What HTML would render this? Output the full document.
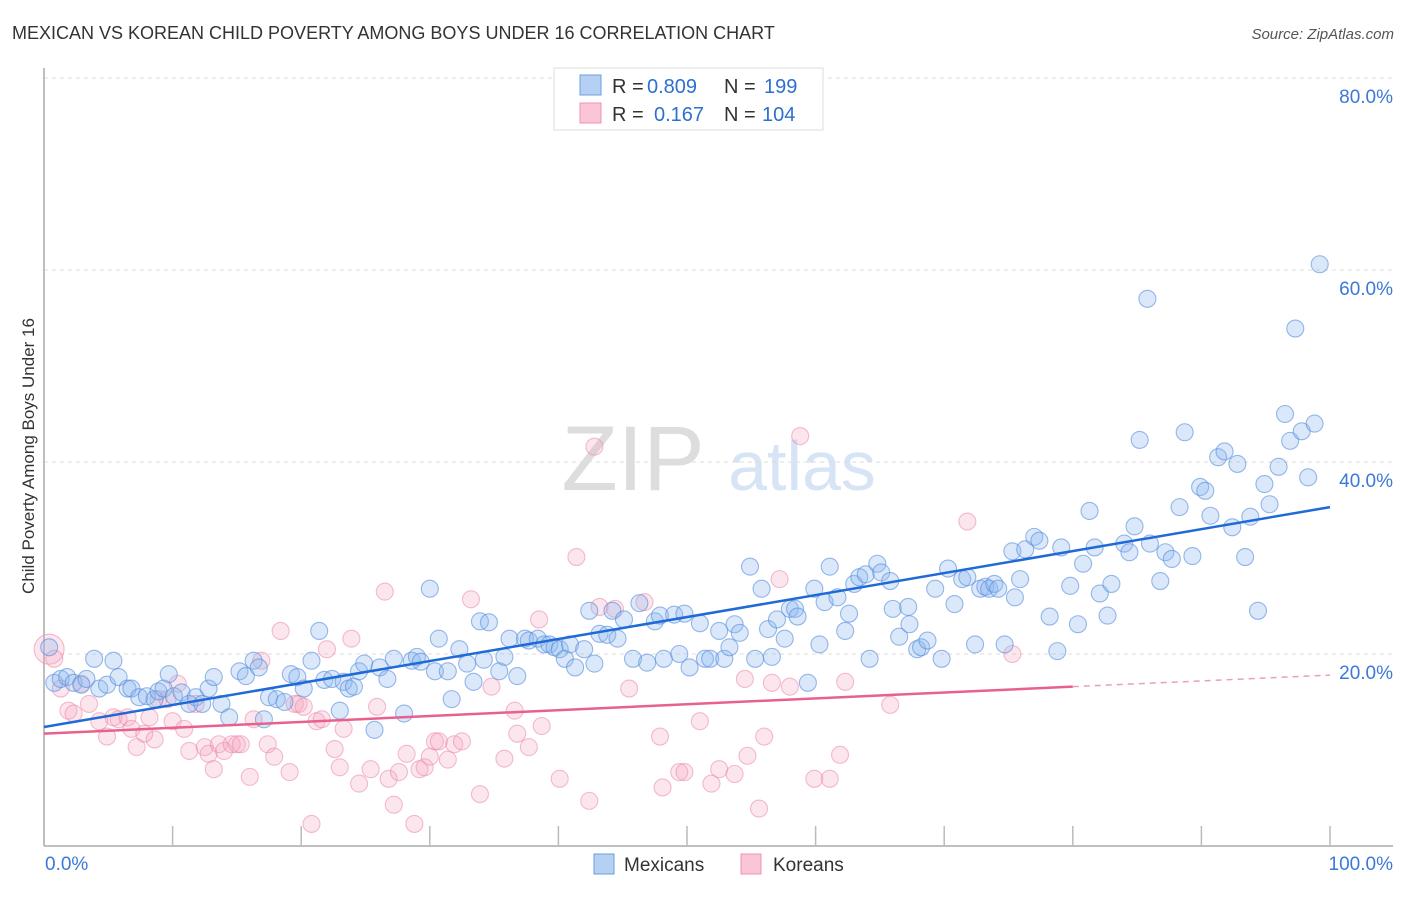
<!DOCTYPE html>
<html><head><meta charset="utf-8"><style>
body{margin:0;background:#fff;font-family:"Liberation Sans",sans-serif;}
svg text{font-family:"Liberation Sans",sans-serif;}
</style></head><body>
<svg id="chart" width="1406" height="892" xmlns="http://www.w3.org/2000/svg">
<text x="12" y="39" font-size="18" fill="#333">MEXICAN VS KOREAN CHILD POVERTY AMONG BOYS UNDER 16 CORRELATION CHART</text>
<text x="1394" y="39" font-size="15" fill="#555" font-style="italic" text-anchor="end">Source: ZipAtlas.com</text>
<text x="34" y="456" font-size="17" fill="#333" text-anchor="middle" transform="rotate(-90 34 456)">Child Poverty Among Boys Under 16</text>
<g><text x="633" y="490" font-size="92" fill="#ddd" font-family="Liberation Serif" text-anchor="middle">ZIP</text><text x="802" y="490" font-size="70" fill="#d6e4f5" text-anchor="middle">atlas</text></g>
<g id="grid"></g>
<g id="axes"></g>
<g id="pink"></g>
<g id="blue"></g>
<g id="lines"></g>
<g>
<rect x="554" y="68" width="269" height="62" fill="#fff" stroke="#ddd"/>
<rect x="580" y="75" width="21" height="20" fill="#b5d0f2" stroke="#6a9fe0"/>
<text x="612" y="93" font-size="20" fill="#333">R = </text><text x="647" y="93" font-size="20" fill="#2f6fd0">0.809</text>
<text x="724" y="93" font-size="20" fill="#333">N = </text><text x="764" y="93" font-size="20" fill="#2f6fd0">199</text>
<rect x="580" y="103" width="21" height="20" fill="#fac6d6" stroke="#ee93b2"/>
<text x="612" y="121" font-size="20" fill="#333">R = </text><text x="654" y="121" font-size="20" fill="#2f6fd0">0.167</text>
<text x="724" y="121" font-size="20" fill="#333">N = </text><text x="762" y="121" font-size="20" fill="#2f6fd0">104</text>
</g>
<g>
<rect x="594" y="854" width="20" height="20" fill="#b5d0f2" stroke="#6a9fe0"/>
<text x="624" y="871" font-size="19" fill="#333">Mexicans</text>
<rect x="741" y="854" width="20" height="20" fill="#fac6d6" stroke="#ee93b2"/>
<text x="773" y="871" font-size="19" fill="#333">Koreans</text>
</g>
</svg>
<script>
const yTicks=[20,40,60,80];
const xTickLabels=["0.0%","100.0%"];
const blueX=[0.4,0.8,1.3,1.8,2.3,2.9,3.3,3.9,4.3,4.9,5.4,5.8,6.5,6.8,7.4,8.0,8.6,8.9,9.3,9.7,10.1,10.7,11.3,11.8,12.3,12.8,13.2,13.8,14.4,15.2,15.7,16.3,16.7,17.1,17.5,18.1,18.7,19.2,19.7,20.2,20.8,21.4,21.8,22.4,23.0,23.3,23.7,24.1,24.5,24.9,25.7,26.1,26.7,27.2,28.0,28.6,29.0,29.3,30.0,30.4,30.7,31.4,31.7,32.3,32.9,33.4,33.9,34.6,34.2,35.4,35.8,36.2,36.8,37.4,37.7,38.4,38.9,39.3,39.7,40.1,40.5,40.9,41.3,42.0,42.4,42.8,43.2,43.8,44.2,44.6,45.1,45.8,46.3,46.9,47.5,47.9,48.2,49.0,49.4,49.8,50.2,51.0,51.4,51.8,52.5,52.9,53.3,53.7,54.1,54.9,55.3,55.8,56.3,56.6,57.0,57.6,58.0,58.4,58.6,59.4,59.9,60.3,60.7,61.1,61.7,62.3,62.6,63.0,63.4,63.9,64.2,64.8,65.1,65.8,66.0,66.5,67.2,67.3,67.9,68.2,68.7,69.3,69.8,70.3,70.8,71.4,71.8,72.4,72.8,73.2,73.5,73.9,74.2,74.7,75.5,75.9,75.3,76.3,77.0,77.4,78.2,78.8,79.1,79.8,80.4,80.8,81.3,81.7,82.1,82.7,83.0,84.0,84.4,84.8,85.2,85.8,86.0,86.8,87.2,87.7,88.3,88.7,89.3,89.9,90.3,90.7,91.3,91.8,92.4,92.8,93.4,93.8,94.4,94.9,95.3,96.0,96.5,96.9,97.3,97.8,98.3,98.8,99.2];
const blueY=[20.7,17.0,17.4,17.6,17.0,16.8,17.4,19.5,16.4,16.8,19.3,17.6,16.4,16.4,15.5,15.6,15.3,16.1,16.4,17.9,15.6,16.0,14.8,15.5,14.8,16.4,17.6,14.8,13.4,18.2,17.7,19.3,18.6,13.2,15.5,15.3,15.0,17.9,17.6,16.4,19.3,22.4,17.3,17.4,14.1,17.1,16.4,16.6,18.2,19.0,12.1,18.6,17.4,19.5,13.8,19.3,19.7,19.2,26.8,18.2,21.6,18.2,15.3,20.5,19.0,17.1,23.4,23.3,19.4,18.2,19.7,21.6,17.7,21.6,21.4,21.6,21.0,21.0,20.7,20.5,19.5,21.0,18.6,20.5,24.5,19.0,22.1,22.0,24.5,21.6,23.6,19.5,25.3,19.1,23.4,24.0,19.5,24.1,20.0,24.2,18.6,23.2,19.5,19.5,22.4,19.5,20.7,23.1,22.2,29.1,19.5,26.8,22.6,19.7,23.6,21.6,24.7,24.7,23.9,17.0,26.8,21.0,25.4,29.1,25.9,22.4,24.2,27.3,28.0,28.3,19.5,29.4,28.5,27.6,24.7,21.8,24.9,23.1,20.5,20.7,21.4,26.8,19.5,28.9,25.2,27.8,28.0,21.0,26.8,27.0,26.8,27.3,26.8,21.0,25.9,27.8,30.7,30.9,32.2,31.8,23.9,20.3,31.1,27.1,23.1,29.4,34.9,31.1,26.3,24.0,27.3,31.5,30.6,33.3,42.3,57.0,31.5,27.6,30.6,29.9,35.3,43.1,30.2,37.4,37.0,34.4,40.5,41.1,33.2,39.8,30.1,34.3,24.5,37.7,35.6,39.5,45.0,42.2,53.9,43.2,38.4,44.0,60.6];
const pinkX=[0.4,0.8,1.3,1.9,2.3,2.9,3.5,4.3,4.9,5.4,5.8,6.5,6.8,7.2,7.8,8.2,8.6,8.9,9.6,10.0,10.4,10.9,11.3,11.8,12.5,12.8,13.2,13.6,14.0,14.6,15.0,15.3,16.0,16.3,16.9,17.4,17.9,18.4,19.1,19.5,19.8,20.2,20.8,21.2,21.6,22.0,22.6,23.0,23.3,23.9,24.5,25.4,25.9,26.5,26.8,27.2,27.6,28.2,28.8,29.2,29.6,30.0,30.4,30.7,31.4,31.9,32.5,33.2,33.9,34.8,35.8,36.6,36.8,37.7,38.5,38.7,40.1,41.4,42.4,42.8,43.2,44.4,45.5,46.7,47.9,48.1,49.4,49.8,51.0,51.9,52.5,53.7,54.5,54.7,55.6,56.0,56.6,57.2,58.0,58.8,59.9,61.1,61.9,62.3,65.8,71.8,75.3];
const pinkY=[20.5,19.5,16.4,14.1,13.8,16.9,14.8,13.0,11.4,13.4,13.2,13.4,12.2,10.3,11.7,13.4,11.1,15.3,15.3,13.0,16.9,12.2,9.9,14.8,10.3,9.6,8.0,10.6,9.9,10.6,10.6,10.6,7.2,13.2,19.3,10.6,9.3,22.4,7.7,14.8,14.8,14.5,2.3,13.0,13.2,20.5,10.1,8.2,12.2,21.6,6.5,8.0,14.5,26.5,7.0,4.3,7.7,9.6,2.3,8.0,8.2,9.3,10.9,10.9,9.0,10.6,10.9,25.7,5.4,16.6,9.1,14.1,11.7,10.3,23.6,12.5,7.0,30.1,4.7,41.6,24.9,24.7,16.4,25.4,11.4,6.1,7.7,7.7,13.0,6.5,8.0,7.5,17.4,9.4,3.9,11.4,17.0,27.8,16.6,42.7,7.0,7.0,9.5,17.1,14.7,33.8,20.0];
const blueFit=[12.4,35.3];
const pinkFit=[11.7,16.6,17.8];

const NS="http://www.w3.org/2000/svg";
const X0=44,X1=1330,Y0=846,PXY=9.6;
function sx(v){return X0+(X1-X0)*v/100;}
function sy(v){return Y0-v*PXY;}
function mk(tag,attrs,parent){const e=document.createElementNS(NS,tag);for(const k in attrs)e.setAttribute(k,attrs[k]);parent.appendChild(e);return e;}
const grid=document.getElementById('grid');
yTicks.forEach(t=>{
  const l=mk('line',{x1:X0,x2:1393,y1:sy(t),y2:sy(t),stroke:'#ddd','stroke-dasharray':'4,4'},grid);
  
  
  const tx=mk('text',{x:1393,y:sy(t)+25,'font-size':19,fill:'#3b78d8','text-anchor':'end'},grid);
  tx.textContent=t.toFixed(1)+'%';
  
  
});
const axes=document.getElementById('axes');
const ya=mk('line',{x1:X0,x2:X0,y1:68,y2:Y0,stroke:'#aaa','stroke-width':1.5},axes);


const xa=mk('line',{x1:X0,x2:1393,y1:Y0,y2:Y0,stroke:'#aaa','stroke-width':1.5},axes);


for(let i=1;i<=10;i++){
  const tk=mk('line',{x1:sx(i*10),x2:sx(i*10),y1:Y0-20,y2:Y0,stroke:'#bbb','stroke-width':1.5},axes);
  
  
}
[[0,'start',45],[100,'end',1393]].forEach((d,i)=>{
  const t=mk('text',{x:d[2],y:870,'font-size':19,fill:'#3b78d8','text-anchor':d[1]},axes);
  t.textContent=xTickLabels[i];
  
  
});
const pg=document.getElementById('pink');
pinkX.forEach((x,i)=>{
  const c=mk('circle',{cx:sx(x),cy:sy(pinkY[i]),r:i==0?15:8.5,fill:'rgba(244,165,192,0.28)',stroke:'rgba(235,135,170,0.55)','stroke-width':1.1},pg);
  
  
});
const bg=document.getElementById('blue');
blueX.forEach((x,i)=>{
  const c=mk('circle',{cx:sx(x),cy:sy(blueY[i]),r:8.5,fill:'rgba(140,182,238,0.32)',stroke:'rgba(85,140,220,0.6)','stroke-width':1.1},bg);
  
  
});
const lg=document.getElementById('lines');
const bl=mk('line',{x1:sx(0),y1:sy(blueFit[0]),x2:sx(100),y2:sy(blueFit[1]),stroke:'#1f6ad6','stroke-width':2.5},lg);


const pl=mk('line',{x1:sx(0),y1:sy(pinkFit[0]),x2:sx(80),y2:sy(pinkFit[1]),stroke:'#e8608f','stroke-width':2.5},lg);


const pd=mk('line',{x1:sx(80),y1:sy(pinkFit[1]),x2:sx(100),y2:sy(pinkFit[2]),stroke:'#e8a0b8','stroke-width':1.5,'stroke-dasharray':'6,5'},lg);


</script>
</body></html>
